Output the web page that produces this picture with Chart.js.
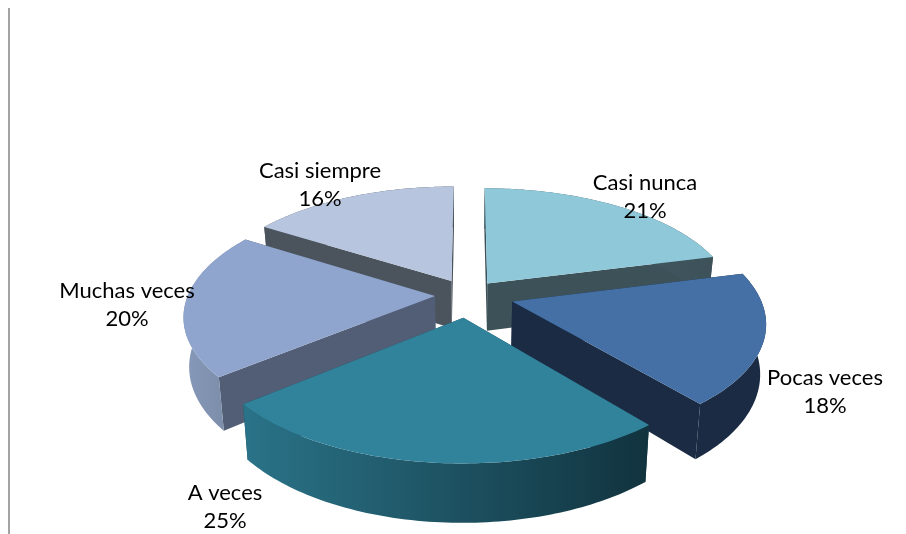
<!DOCTYPE html>
<html>
<head>
<meta charset="utf-8">
<script src="https://cdn.jsdelivr.net/npm/chart.js@4"></script>
<style>
html,body{margin:0;padding:0;background:#fff;overflow:hidden}
#wrap{position:relative;width:906px;height:534px}
#rule{position:absolute;left:8px;top:8px;bottom:0;width:2px;background:#a3a3a3}
canvas{position:absolute;left:0;top:0}
</style>
</head>
<body>
<div id="wrap"><canvas id="c" width="906" height="534"></canvas><div id="rule"></div></div>
<script>
const categories = ['Casi nunca', 'Pocas veces', 'A veces', 'Muchas veces', 'Casi siempre'];
const seriesValues = [21, 18, 25, 20, 16];
const explode = [32, 46, 48, 33, 35];
const topColors = ['#8FC9D9', '#4470A5', '#31829B', '#8FA5CE', '#B7C5DE'];
const wallColors = ['#3D5159', '#1B2B44', '#1B4655', '#515E75', '#4B535C'];
const rimLeft = ['#45606B', '#1B2B44', '#2A7388', '#8799BA', '#4B535C'];
const rimRight = ['#3D5159', '#1B2B44', '#11333E', '#75879F', '#4B535C'];
const labelCenters = [[645, 183], [825, 378], [225, 493], [127, 291], [320, 171]];
const view = {cx: 468, cy: 295, rx: 247, ry: 114, persp: 0.161, depth: 48, shrink: 0.98};
const labelFont = '22px Lato';
const labelLeading = 27.5;

function project(X, Y, down) {
  const w = 1 / (1 - view.persp * Y);
  const k = down ? view.shrink : 1;
  return [view.cx + view.rx * X * w * k, view.cy + view.ry * Y * w + (down ? view.depth * w : 0)];
}

const pie3d = {
  id: 'pie3d',
  beforeDatasetDraw() { return false; },
  afterDatasetsDraw(chart) {
    const ctx = chart.ctx;
    const arcs = chart.getDatasetMeta(0).data;
    const total = seriesValues.reduce((a, b) => a + b, 0);
    const order = arcs.map((a, i) => i).sort((p, q) => {
      const mid = i => (arcs[i].startAngle + arcs[i].endAngle) / 2;
      return Math.sin(mid(p)) - Math.sin(mid(q));
    });
    const poly = pts => {
      ctx.beginPath();
      pts.forEach((p, i) => i ? ctx.lineTo(p[0], p[1]) : ctx.moveTo(p[0], p[1]));
      ctx.closePath();
    };
    order.forEach(i => {
      const {startAngle: a0, endAngle: a1} = arcs[i].getProps(['startAngle', 'endAngle']);
      const mid = (a0 + a1) / 2;
      const off = arcs[i].options.offset / view.rx;
      const ox = Math.cos(mid) * off, oy = Math.sin(mid) * off;
      const topPts = [], lowPts = [];
      for (let s = 0; s <= 80; s++) {
        const a = a0 + (a1 - a0) * s / 80;
        const X = ox + Math.cos(a), Y = oy + Math.sin(a);
        topPts.push(project(X, Y, false));
        lowPts.push(project(X, Y, true));
      }
      const apexTop = project(ox, oy, false), apexLow = project(ox, oy, true);
      ctx.fillStyle = wallColors[i];
      poly([apexTop, topPts[0], lowPts[0], apexLow]); ctx.fill();
      poly([apexTop, topPts[80], lowPts[80], apexLow]); ctx.fill();
      const xs = topPts.concat(lowPts).map(p => p[0]);
      const g = ctx.createLinearGradient(Math.min(...xs), 0, Math.max(...xs), 0);
      g.addColorStop(0, rimLeft[i]);
      g.addColorStop(1, rimRight[i]);
      ctx.fillStyle = g;
      poly(topPts.concat(lowPts.slice().reverse())); ctx.fill();
      ctx.fillStyle = topColors[i];
      poly([apexTop].concat(topPts)); ctx.fill();
    });
    ctx.save();
    ctx.font = labelFont;
    ctx.fillStyle = '#000';
    ctx.textAlign = 'center';
    ctx.textBaseline = 'middle';
    categories.forEach((name, i) => {
      const [x, y] = labelCenters[i];
      ctx.fillText(name, x, y);
      ctx.fillText(Math.round(seriesValues[i] / total * 100) + '%', x, y + labelLeading);
    });
    ctx.restore();
  }
};

new Chart(document.getElementById('c'), {
  type: 'pie',
  data: {
    labels: categories,
    datasets: [{data: seriesValues, backgroundColor: topColors, offset: explode, borderWidth: 0}]
  },
  options: {
    responsive: false,
    animation: false,
    plugins: {legend: {display: false}, tooltip: {enabled: false}}
  },
  plugins: [pie3d]
});
</script>
</body>
</html>
